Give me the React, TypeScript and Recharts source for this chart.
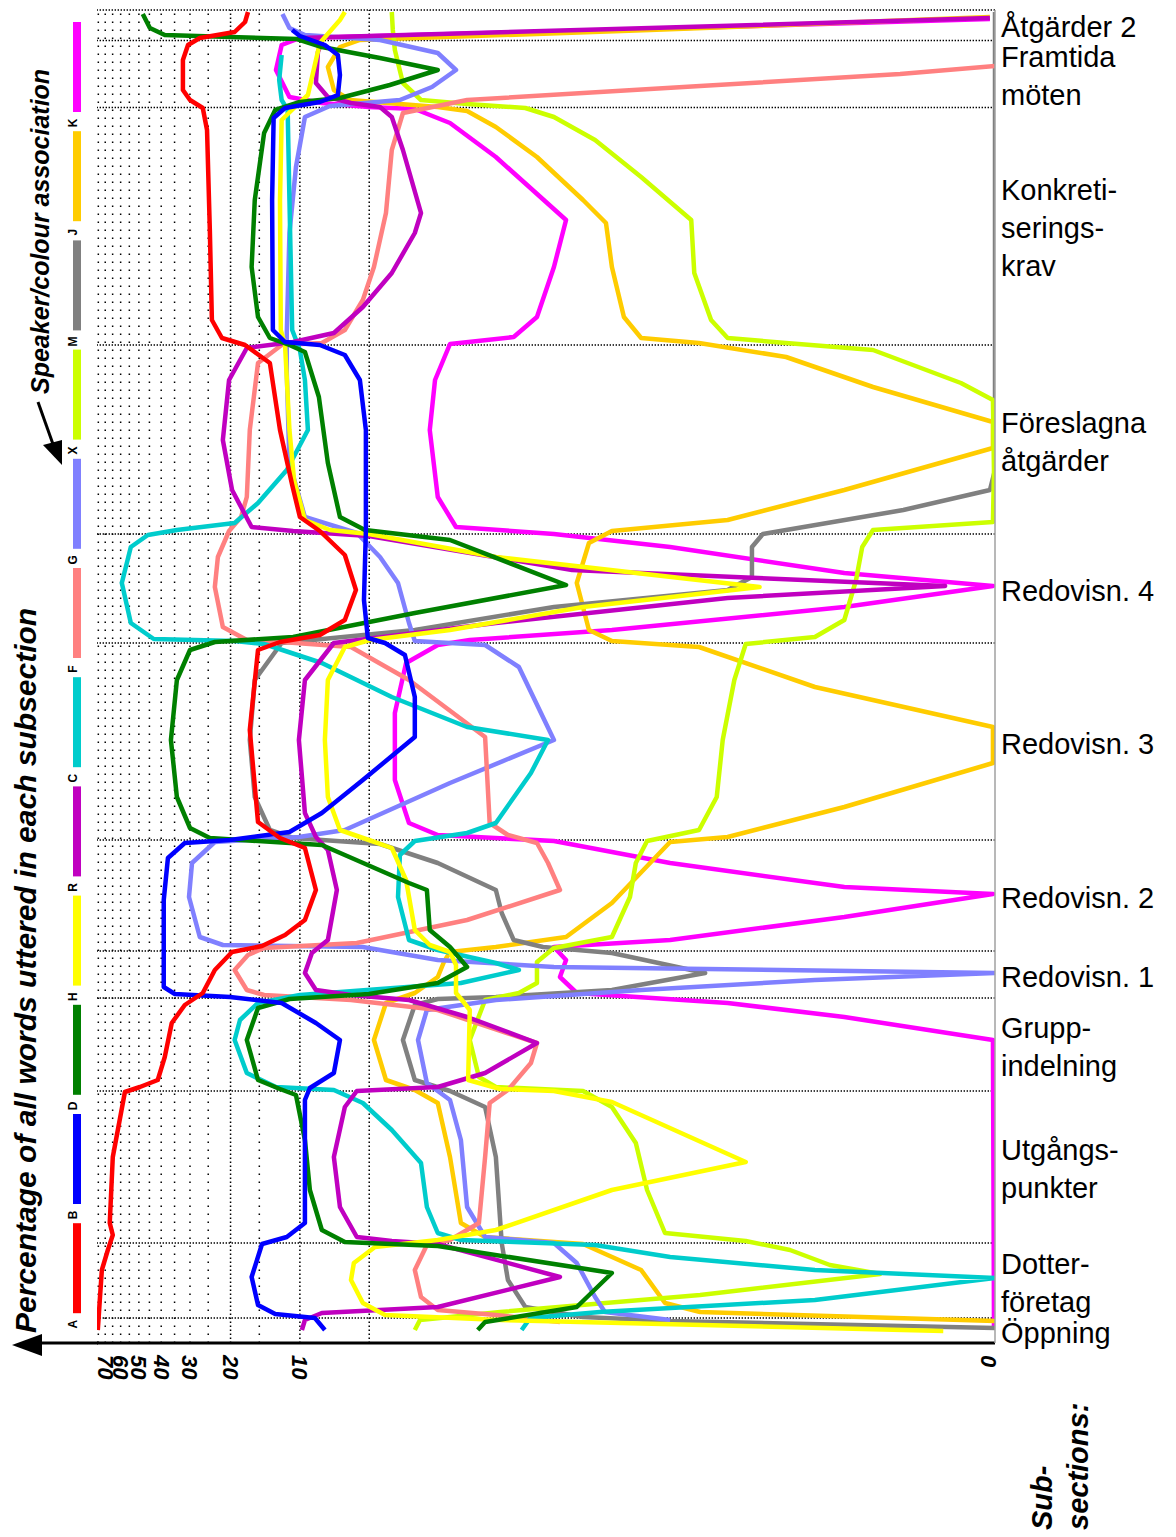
import React from "react";
import { LineChart, Line, XAxis, YAxis, ReferenceLine } from "recharts";

const W = 1176;
const H = 1537;
const FONT = '"Liberation Sans", Arial, Helvetica, sans-serif';

// percentage scale (log), 0 shown at the far right
const MIN_PCT = 0.0096;
const MAX_PCT = 76;
const percentTicks = [70, 60, 50, 40, 30, 20, 10, MIN_PCT];
const gridPercents = [5, 10, 15, 20, 25, 30, 35, 40, 45, 50, 55, 60, 65, 70, 75];
const denseGrid = [5, 10, 20];

// word position along the meeting (0 = start, bottom; 1333 = end, top)
const subsectionNames: string[][] = [
  ["Öppning"],
  ["Dotter-", "företag"],
  ["Utgångs-", "punkter"],
  ["Grupp-", "indelning"],
  ["Redovisn. 1"],
  ["Redovisn. 2"],
  ["Redovisn. 3"],
  ["Redovisn. 4"],
  ["Föreslagna", "åtgärder"],
  ["Konkreti-", "serings-", "krav"],
  ["Framtida", "möten"],
  ["Åtgärder 2"],
];
const subsectionBounds = [0, 25, 100, 252, 345, 392, 503, 700, 809, 998, 1235.5, 1302.5, 1333];

// [word position, percentage of words uttered]
const speakerK: [number, number][] = [
  [1324, 0.0101], [1314, 0.302], [1305, 10.0], [1298, 12.0], [1273, 12.7], [1246, 11.1], [1240, 8.03], [1236, 5.02],
  [1234, 3.17], [1220, 2.23], [1186, 1.41], [1123, 0.699], [1076, 0.789], [1026, 0.935], [1006, 1.18], [999, 2.23],
  [963, 2.59], [913, 2.73], [846, 2.52], [816, 2.1], [809, 0.789], [796, 0.247], [770, 0.0433], [757, 0.0098],
  [736, 0.0433], [713, 0.442], [703, 1.83], [698, 2.52], [680, 3.46], [630, 3.87], [563, 3.87], [520, 3.36],
  [508, 2.52], [502, 0.789], [480, 0.247], [456, 0.0433], [449, 0.0098], [426, 0.0433], [403, 0.247], [396, 0.789],
  [383, 0.699], [366, 0.743], [350, 0.628], [340, 0.139], [326, 0.0433], [303, 0.0098], [25, 0.0097], [13, 0.0097],
];
const speakerJ: [number, number][] = [
  [1326, 0.0101], [1313, 0.302], [1303, 5.49], [1296, 6.7], [1276, 7.56], [1253, 7.12], [1243, 6.07], [1236, 2.52],
  [1232, 1.88], [1216, 1.41], [1186, 0.935], [1143, 0.59], [1120, 0.469], [1076, 0.442], [1026, 0.392], [1005, 0.33],
  [1000, 0.185], [986, 0.0775], [956, 0.0325], [921, 0.0098], [895, 0.0098], [853, 0.0433], [823, 0.139], [812, 0.442],
  [800, 0.556], [760, 0.628], [713, 0.556], [702, 0.442], [696, 0.185], [656, 0.0581], [616, 0.0098], [580, 0.0098],
  [536, 0.0433], [506, 0.139], [501, 0.247], [440, 0.442], [406, 0.699], [396, 1.41], [391, 2.23], [381, 2.37],
  [366, 2.52], [350, 3.17], [340, 4.23], [303, 4.77], [263, 4.23], [253, 3.17], [240, 2.52], [186, 2.23],
  [120, 2.0], [106, 1.57], [99, 0.59], [73, 0.33], [40, 0.26], [31, 0.183], [22, 0.0096],
];
const speakerM: [number, number][] = [
  [1331, 0.0096], [873, 0.0096], [853, 0.0101], [833, 0.024], [813, 0.0775], [809, 0.0977], [796, 0.109], [766, 0.109],
  [753, 0.139], [736, 0.789], [713, 3.17], [700, 12.0], [663, 15.7], [603, 16.5], [546, 15.7], [513, 13.5],
  [505, 10.7], [499, 4.49], [480, 2.52], [453, 1.41], [430, 1.33], [403, 1.18], [396, 0.88], [390, 0.442],
  [370, 0.174], [353, 0.442], [346, 1.41], [344, 2.52], [338, 3.17], [303, 3.57], [263, 3.17], [252, 2.23],
  [236, 1.57], [186, 1.41], [100, 1.33], [63, 1.25], [36, 1.05], [26, 0.59], [22, 0.247], [15, 0.0096],
];
const speakerX: [number, number][] = [
  [1331, 3.99], [1313, 3.95], [1293, 3.87], [1260, 3.57], [1243, 2.98], [1239, 1.88], [1235, 1.05], [1226, 0.789],
  [1203, 0.523], [1166, 0.33], [1123, 0.2], [1070, 0.194], [1023, 0.164], [1005, 0.139], [1000, 0.0775], [993, 0.0325],
  [960, 0.0135], [943, 0.0098], [873, 0.0097], [821, 0.0098], [813, 0.0325], [796, 0.0362], [763, 0.0385], [723, 0.0433],
  [706, 0.0581], [699, 0.116], [663, 0.13], [603, 0.146], [546, 0.155], [513, 0.185], [502, 0.311], [480, 0.348],
  [446, 0.369], [406, 0.442], [395, 0.789], [381, 0.935], [360, 0.935], [350, 1.12], [343, 1.57], [303, 1.83],
  [266, 1.67], [256, 1.41], [252, 0.59], [236, 0.442], [200, 0.348], [153, 0.311], [110, 0.26], [102, 0.116],
  [93, 0.0745], [78, 0.05], [69, 0.0303], [48, 0.183], [31, 1.35], [23, 3.01], [13, 3.17],
];
const speakerG: [number, number][] = [
  [1329, 11.9], [1315, 11.1], [1308, 9.51], [1303, 4.49], [1290, 2.52], [1273, 2.1], [1256, 2.67], [1243, 3.68],
  [1237, 7.41], [1226, 9.51], [1176, 10.4], [1110, 11.1], [1010, 11.4], [970, 11.4], [880, 11.1], [826, 9.51],
  [810, 5.66], [786, 4.49], [760, 3.75], [720, 3.36], [702, 3.17], [698, 1.57], [676, 1.12], [603, 0.789],
  [560, 2.23], [513, 6.38], [506, 10.1], [501, 23.4], [480, 29.4], [446, 30.3], [406, 27.2], [398, 21.6],
  [396, 5.33], [383, 2.52], [376, 0.789], [370, 0.0096], [363, 0.0581], [353, 0.33], [343, 1.41], [333, 2.81],
  [303, 3.07], [260, 2.81], [243, 2.23], [203, 2.0], [136, 1.88], [106, 1.57], [100, 0.789], [80, 0.628],
  [46, 0.523], [31, 0.474], [23, 0.247],
];
const speakerF: [number, number][] = [
  [1277, 0.0096], [1269, 0.0248], [1257, 0.183], [1243, 1.88], [1230, 3.57], [1193, 3.99], [1130, 4.23], [1076, 4.77],
  [1043, 5.33], [1013, 6.38], [1000, 8.03], [998, 12.0], [980, 15.2], [913, 16.5], [846, 17.0], [826, 18.0],
  [812, 20.3], [786, 22.7], [756, 23.4], [716, 21.6], [703, 17.0], [701, 12.0], [696, 6.0], [663, 3.36],
  [606, 1.57], [520, 1.5], [508, 1.25], [500, 0.935], [480, 0.837], [453, 0.743], [423, 1.88], [400, 5.66],
  [395, 14.3], [388, 16.8], [373, 19.2], [353, 17.0], [348, 14.3], [343, 6.0], [333, 2.52], [300, 0.935],
  [280, 0.993], [253, 1.25], [240, 1.5], [186, 1.57], [120, 1.67], [103, 2.23], [98, 2.81], [73, 3.17],
  [46, 2.98], [33, 2.52], [28, 1.41], [21, 0.743],
];
const speakerC: [number, number][] = [
  [1288, 12.0], [1263, 12.3], [1243, 12.0], [1233, 11.3], [1143, 11.1], [1013, 10.8], [993, 10.0], [963, 9.51],
  [913, 9.23], [873, 11.4], [840, 15.2], [820, 19.2], [813, 34.2], [808, 45.7], [796, 54.2], [760, 59.3],
  [720, 54.2], [704, 43.1], [702, 19.2], [699, 14.3], [680, 8.03], [646, 3.99], [616, 1.88], [603, 0.837],
  [570, 0.993], [520, 1.41], [510, 1.88], [502, 3.17], [488, 3.68], [446, 3.75], [403, 3.36], [393, 2.52],
  [380, 1.41], [373, 1.12], [360, 2.0], [348, 10.0], [340, 15.2], [323, 18.2], [303, 19.2], [270, 17.0],
  [256, 12.7], [253, 7.12], [240, 5.33], [213, 3.99], [180, 2.98], [136, 2.81], [110, 2.52], [103, 2.0],
  [98, 0.523], [86, 0.247], [73, 0.0581], [65, 0.0096], [43, 0.0581], [31, 0.498], [25, 1.0], [13, 1.09],
];
const speakerR: [number, number][] = [
  [1325, 0.0101], [1315, 0.302], [1305, 10.0], [1301, 8.03], [1291, 8.35], [1260, 8.52], [1246, 7.56], [1240, 6.0],
  [1236, 4.49], [1226, 3.99], [1193, 3.57], [1130, 2.98], [1110, 3.17], [1070, 3.99], [1036, 5.33], [1010, 7.12],
  [1001, 10.7], [995, 17.0], [963, 20.3], [903, 21.6], [853, 19.7], [816, 16.2], [812, 10.7], [807, 5.02],
  [773, 0.658], [757, 0.0158], [745, 0.139], [720, 1.41], [700, 7.12], [663, 9.51], [603, 10.1], [530, 9.51],
  [506, 8.52], [493, 7.56], [453, 6.91], [403, 7.56], [390, 8.87], [370, 9.51], [353, 8.52], [348, 6.0],
  [343, 3.36], [326, 1.88], [300, 0.935], [270, 1.57], [256, 2.52], [252, 5.66], [236, 6.38], [186, 7.12],
  [136, 6.7], [106, 5.66], [102, 3.99], [99, 2.52], [66, 0.743], [36, 2.52], [30, 8.03], [23, 9.51], [13, 9.8],
];
const speakerH: [number, number][] = [
  [1331, 6.38], [1323, 6.7], [1300, 8.19], [1248, 9.23], [1236, 10.5], [1223, 12.0], [1143, 12.2], [1013, 12.1],
  [998, 11.6], [913, 11.1], [863, 10.6], [823, 9.51], [813, 7.41], [809, 5.02], [786, 1.41], [756, 0.101],
  [736, 0.59], [713, 2.23], [703, 4.97], [696, 6.38], [663, 7.56], [603, 7.79], [546, 7.56], [513, 6.7],
  [503, 5.02], [495, 3.99], [463, 3.46], [413, 3.17], [398, 2.73], [391, 2.23], [378, 2.1], [350, 2.1],
  [343, 1.98], [333, 1.83], [263, 1.86], [254, 1.35], [252, 0.789], [241, 0.442], [181, 0.116], [153, 0.442],
  [113, 1.41], [103, 2.52], [96, 4.72], [80, 5.83], [63, 6.0], [40, 5.33], [28, 4.27], [23, 1.35], [12, 0.0161],
];
const speakerD: [number, number][] = [
  [1329, 48.1], [1315, 44.8], [1308, 38.6], [1306, 20.1], [1304, 10.3], [1296, 8.03], [1285, 4.49], [1273, 2.52],
  [1258, 4.07], [1245, 6.7], [1241, 10.0], [1233, 12.8], [1210, 14.3], [1143, 15.7], [1076, 16.2], [1026, 15.2],
  [1005, 13.5], [998, 11.1], [991, 9.51], [946, 8.27], [880, 7.56], [826, 6.7], [813, 5.22], [803, 2.23],
  [758, 0.699], [730, 3.17], [706, 10.7], [701, 23.4], [693, 30.0], [663, 34.2], [603, 36.3], [546, 34.2],
  [515, 30.0], [505, 24.6], [498, 8.03], [460, 3.36], [453, 2.81], [413, 2.73], [396, 2.23], [376, 1.88],
  [360, 2.52], [349, 5.02], [344, 11.1], [335, 15.2], [303, 17.0], [263, 15.2], [254, 12.2], [248, 10.4],
  [203, 9.51], [153, 9.05], [113, 8.03], [101, 6.38], [97, 2.52], [70, 0.442], [36, 0.628], [21, 1.57], [13, 1.69],
];
const speakerB: [number, number][] = [
  [1313, 10.8], [1307, 10.0], [1298, 7.79], [1288, 6.84], [1268, 6.7], [1248, 6.84], [1241, 8.19], [1235, 11.6],
  [1225, 13.0], [1143, 13.2], [1013, 13.1], [1001, 11.6], [998, 8.19], [988, 6.38], [963, 5.49], [913, 5.17],
  [813, 5.17], [743, 5.27], [705, 5.07], [700, 4.27], [688, 3.5], [646, 3.17], [606, 3.17], [563, 5.33],
  [530, 8.03], [511, 11.1], [503, 20.1], [500, 31.6], [485, 37.4], [443, 39.0], [356, 39.0], [349, 34.9],
  [346, 20.1], [340, 12.0], [320, 8.52], [303, 6.7], [270, 7.12], [255, 9.05], [243, 9.51], [120, 9.51],
  [106, 11.4], [99, 14.6], [66, 16.2], [38, 15.2], [29, 12.8], [25, 8.61], [13, 7.79],
];
const speakerA: [number, number][] = [
  [1331, 16.8], [1321, 17.3], [1311, 19.2], [1305, 27.2], [1298, 30.6], [1283, 32.2], [1253, 32.2], [1243, 30.0],
  [1235, 26.4], [1213, 25.3], [1113, 24.6], [1023, 24.1], [1005, 21.8], [998, 17.3], [980, 13.5], [913, 12.2],
  [858, 10.8], [826, 10.0], [812, 8.19], [788, 6.38], [753, 5.71], [723, 6.38], [708, 8.19], [701, 12.2],
  [693, 15.2], [613, 16.5], [521, 15.2], [505, 12.2], [495, 9.51], [453, 8.52], [423, 9.51], [408, 11.6],
  [397, 14.6], [391, 19.7], [373, 23.4], [350, 26.4], [338, 31.6], [320, 36.0], [286, 38.6], [263, 41.4],
  [256, 49.5], [251, 57.5], [186, 64.9], [120, 66.9], [108, 64.9], [93, 68.2], [73, 72.4], [43, 73.9], [13, 75.4],
];

// legend order, top to bottom (also drawing order: first drawn = lowest)
const speakers = [
  { id: "K", color: "#ff00ff", points: speakerK },
  { id: "J", color: "#ffcc00", points: speakerJ },
  { id: "M", color: "#808080", points: speakerM },
  { id: "X", color: "#ccff00", points: speakerX },
  { id: "G", color: "#8080ff", points: speakerG },
  { id: "F", color: "#ff8080", points: speakerF },
  { id: "C", color: "#00cccc", points: speakerC },
  { id: "R", color: "#c000c0", points: speakerR },
  { id: "H", color: "#ffff00", points: speakerH },
  { id: "D", color: "#008000", points: speakerD },
  { id: "B", color: "#0000ff", points: speakerB },
  { id: "A", color: "#ff0000", points: speakerA },
];

const sectionMids = subsectionNames.map((_, i) => (subsectionBounds[i] + subsectionBounds[i + 1]) / 2);

const XTick = (props: any) => {
  const { x, y, payload } = props;
  const isZero = payload.value === MIN_PCT;
  const label = isZero ? "0" : String(payload.value);
  const tx = isZero ? x - 7 : x;
  const ty = y + 4;
  return (
    <text
      x={tx}
      y={ty}
      transform={`rotate(90 ${tx} ${ty})`}
      fontFamily={FONT}
      fontSize={22}
      fontWeight="bold"
      fontStyle="italic"
      fill="#000"
      textAnchor="start"
      dominantBaseline="central"
    >
      {label}
    </text>
  );
};

const SectionTick = (props: any) => {
  const { x, y, payload } = props;
  const idx = sectionMids.findIndex((m) => Math.abs(m - payload.value) < 0.01);
  if (idx < 0) return null;
  const lines = subsectionNames[idx];
  const n = lines.length;
  return (
    <g>
      {lines.map((ln, j) => (
        <text
          key={j}
          x={x}
          y={y + 2 + (j - (n - 1) / 2) * 38}
          fontFamily={FONT}
          fontSize={29}
          fill="#000"
          textAnchor="start"
          dominantBaseline="central"
        >
          {ln}
        </text>
      ))}
    </g>
  );
};

export default function App() {
  return (
    <div style={{ position: "absolute", left: 0, top: 0, width: W, height: H, background: "#fff" }}>
      <div style={{ position: "absolute", left: 0, top: 0 }}>
        <LineChart width={W} height={H} margin={{ top: 10, left: 97, right: 0, bottom: 134 }}>
          <XAxis
            type="number"
            dataKey="v"
            scale="log"
            domain={[MIN_PCT, MAX_PCT]}
            reversed
            allowDataOverflow
            ticks={percentTicks}
            interval={0}
            tick={(p: any) => <XTick {...p} />}
            tickLine={false}
            axisLine={{ stroke: "#000", strokeWidth: 3 }}
            height={60}
          />
          <YAxis
            type="number"
            orientation="right"
            domain={[0, 1333]}
            allowDataOverflow
            ticks={sectionMids}
            interval={0}
            tick={(p: any) => <SectionTick {...p} />}
            tickLine={false}
            tickSize={0}
            tickMargin={6}
            axisLine={{ stroke: "#a0a0a0", strokeWidth: 1.5 }}
            width={181}
          />
          {gridPercents.map((p) => (
            <ReferenceLine
              key={`g${p}`}
              x={p}
              stroke="#000"
              strokeWidth={1.5}
              strokeDasharray={denseGrid.includes(p) ? "1.5 2.5" : "1.5 6.5"}
            />
          ))}
          {subsectionBounds.slice(1).map((b) => (
            <ReferenceLine key={`b${b}`} y={b} stroke="#000" strokeWidth={1.4} strokeDasharray="1.4 1.6" />
          ))}
          {speakers.map((s) => (
            <Line
              key={s.id}
              data={s.points.map(([w, v]) => ({ w, v }))}
              dataKey="w"
              type="linear"
              stroke={s.color}
              strokeWidth={4.5}
              strokeLinejoin="round"
              dot={false}
              activeDot={false}
              isAnimationActive={false}
            />
          ))}
        </LineChart>
      </div>
      <svg
        width={W}
        height={H}
        style={{ position: "absolute", left: 0, top: 0, pointerEvents: "none" }}
        fontFamily={FONT}
      >
        <line x1={38} y1={1343} x2={98} y2={1343} stroke="#000" strokeWidth={3} />
        <polygon points="12,1345 42,1334 42,1356" fill="#000" />
        <text
          x={36}
          y={1333}
          transform="rotate(-90 36 1333)"
          fontSize={30}
          fontWeight="bold"
          fontStyle="italic"
          fill="#000"
        >
          Percentage of all words uttered in each subsection
        </text>
        <text
          x={49}
          y={394}
          transform="rotate(-90 49 394)"
          fontSize={25}
          fontWeight="bold"
          fontStyle="italic"
          fill="#000"
        >
          Speaker/colour association
        </text>
        <line x1={38} y1={402} x2={54} y2={447} stroke="#000" strokeWidth={3} />
        <polygon points="43,445 62,440 62,465" fill="#000" />
        {speakers.map((s, i) => {
          const top = 22 + 109.2 * i;
          const ly = top + 101;
          return (
            <g key={`leg${s.id}`}>
              <rect x={73} y={top} width={8} height={90} fill={s.color} />
              <text
                x={77}
                y={ly}
                transform={`rotate(-90 77 ${ly})`}
                fontSize={12}
                fontWeight="bold"
                fill="#000"
                textAnchor="middle"
              >
                {s.id}
              </text>
            </g>
          );
        })}
        <text x={1052} y={1530} transform="rotate(-90 1052 1530)" fontSize={29} fontWeight="bold" fontStyle="italic" fill="#000">
          Sub-
        </text>
        <text x={1088} y={1530} transform="rotate(-90 1088 1530)" fontSize={29} fontWeight="bold" fontStyle="italic" fill="#000">
          sections:
        </text>
      </svg>
    </div>
  );
}
